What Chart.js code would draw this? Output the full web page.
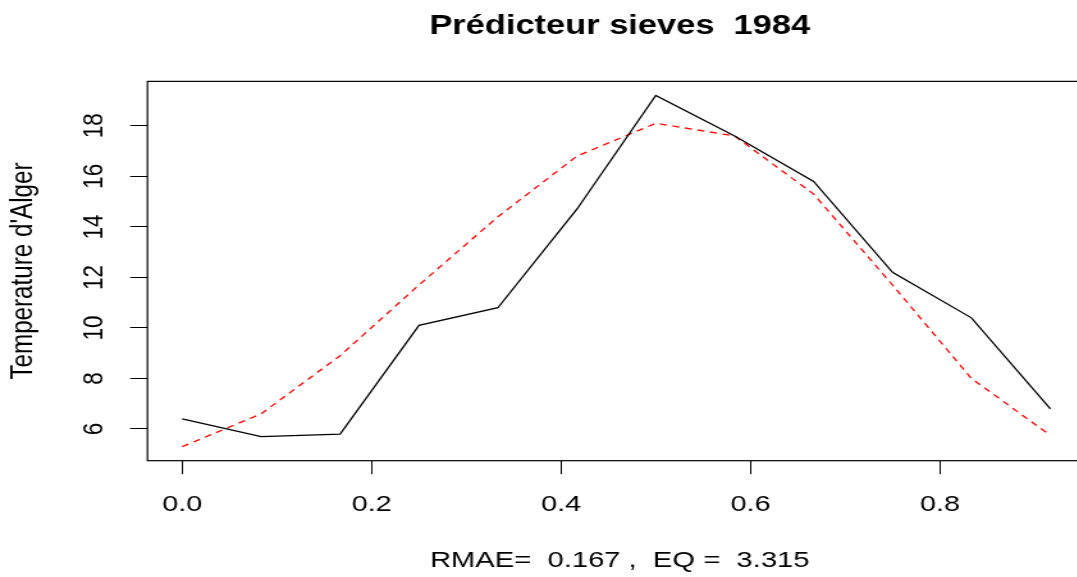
<!DOCTYPE html>
<html>
<head>
<meta charset="utf-8">
<script src="https://cdn.jsdelivr.net/npm/chart.js@4/dist/chart.umd.min.js"></script>
<style>
  html, body { margin: 0; padding: 0; background: #fff; overflow: hidden; }
  /* the reference text is drawn wider than tall, so the whole chart is stretched sideways */
  #wrap { width: 860px; height: 577px; transform: scaleX(1.28); transform-origin: 0 0; }
</style>
</head>
<body>
<div id="wrap"><canvas id="graph"></canvas></div>
<script>
// data
const months = [0, 0.0833, 0.1667, 0.25, 0.3333, 0.4167, 0.5, 0.5833, 0.6667, 0.75, 0.8333, 0.9167];
const observed = [6.4, 5.7, 5.8, 10.1, 10.8, 14.7, 19.2, 17.6, 15.8, 12.2, 10.4, 6.8];
const predicted = [5.3, 6.6, 8.9, 11.7, 14.4, 16.8, 18.1, 17.6, 15.3, 11.7, 8.0, 5.75];
const xTicks = [0, 0.2, 0.4, 0.6, 0.8];
const yTicks = [6, 8, 10, 12, 14, 16, 18];

const titleText = "Prédicteur sieves  1984";
const xTitle = "RMAE=  0.167 ,  EQ =  3.315";
const yTitle = "Temperature d'Alger";

const FONT = "'Liberation Sans', Arial, Helvetica, sans-serif";

function points(values) {
  return values.map((v, i) => ({ x: months[i], y: v }));
}

// R style box round the plot region
const boxPlugin = {
  id: "box",
  afterDraw(chart) {
    const a = chart.chartArea;
    const ctx = chart.ctx;
    ctx.save();
    ctx.strokeStyle = "#000";
    ctx.lineWidth = 1.2;
    ctx.strokeRect(a.left, a.top, a.right - a.left, a.bottom - a.top);
    ctx.restore();
  }
};

const config = {
  type: "line",
  data: {
    datasets: [
      {
        data: points(observed),
        borderColor: "#000000",
        borderWidth: 1.3,
        pointRadius: 0,
        tension: 0,
        fill: false
      },
      {
        data: points(predicted),
        borderColor: "#ff0000",
        borderWidth: 1.3,
        borderDash: [5.5, 4.5],
        pointRadius: 0,
        tension: 0,
        fill: false
      }
    ]
  },
  options: {
    responsive: true,
    maintainAspectRatio: false,
    animation: false,
    layout: { padding: { left: 0, right: 6.9, top: 0, bottom: 0 } },
    plugins: {
      legend: { display: false },
      tooltip: { enabled: false },
      title: {
        display: true,
        text: titleText,
        fullSize: false,
        color: "#000",
        font: { family: FONT, size: 26.9, weight: "bold" },
        padding: { top: 10, bottom: 39.1 }
      }
    },
    scales: {
      x: {
        type: "linear",
        min: -0.0367,
        max: 0.9606,
        afterBuildTicks(scale) { scale.ticks = xTicks.map(v => ({ value: v })); },
        afterFit(scale) { scale.height = 116.3; },
        border: { display: false },
        grid: { display: true, drawOnChartArea: false, drawTicks: true, tickLength: 13.5, color: "#000", lineWidth: 1 },
        ticks: {
          color: "#000",
          padding: 17.3,
          maxRotation: 0,
          font: { family: FONT, size: 22.5 },
          callback: v => Number(v).toFixed(1)
        },
        title: {
          display: true,
          text: xTitle,
          color: "#000",
          font: { family: FONT, size: 22.8 },
          padding: { top: 0, bottom: 2.5 }
        }
      },
      y: {
        type: "linear",
        min: 4.745,
        max: 19.76,
        afterBuildTicks(scale) { scale.ticks = yTicks.map(v => ({ value: v })); },
        afterFit(scale) { scale.width = 115.2; },
        border: { display: false },
        grid: { display: true, drawOnChartArea: false, drawTicks: true, tickLength: 13.5, color: "#000", lineWidth: 1 },
        ticks: {
          color: "#000",
          padding: 15,
          minRotation: 90,
          maxRotation: 90,
          crossAlign: "center",
          font: { family: FONT, size: 22.5 },
          callback: v => String(v)
        },
        title: {
          display: true,
          text: yTitle,
          color: "#000",
          font: { family: FONT, size: 24.2 },
          padding: { top: 3.5, bottom: 0 }
        }
      }
    }
  },
  plugins: [boxPlugin]
};

const chart = new Chart(document.getElementById("graph").getContext("2d"), config);
</script>
</body>
</html>
